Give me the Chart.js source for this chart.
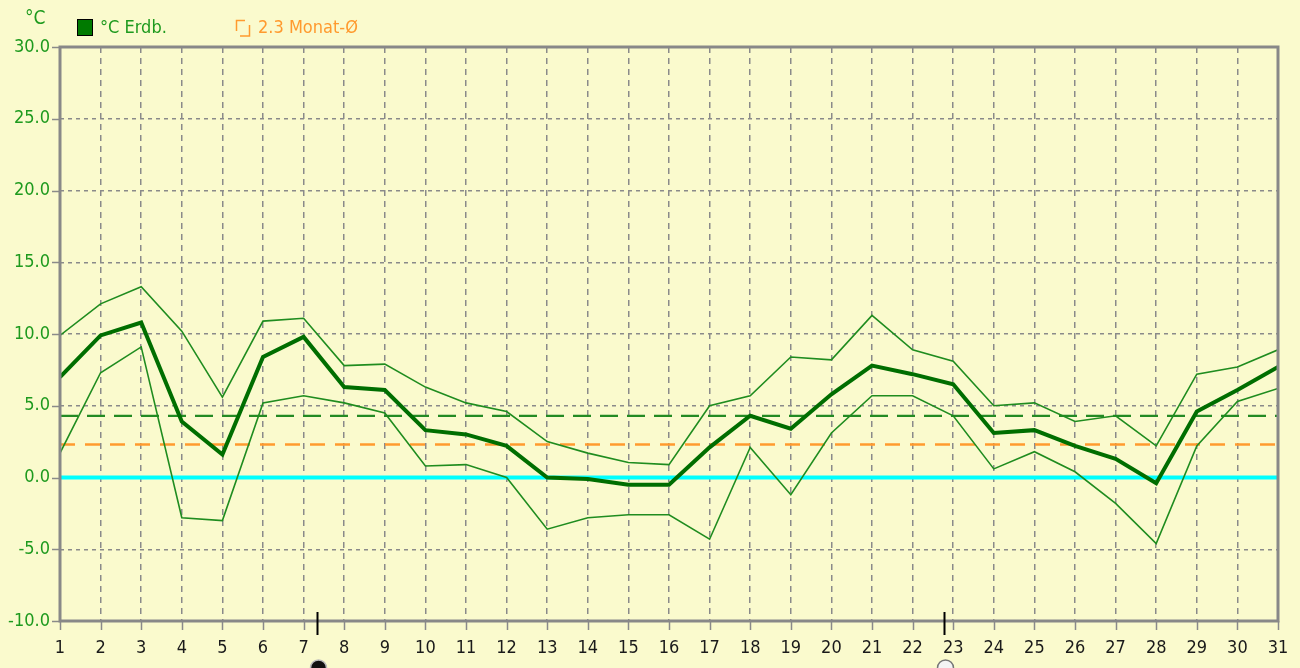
<!DOCTYPE html>
<html>
<head>
<meta charset="utf-8">
<script src="https://cdn.jsdelivr.net/npm/chart.js@4.4.1/dist/chart.umd.min.js"></script>
<style>
  html, body { margin: 0; padding: 0; background: #fafacd; }
  #wrap { width: 1300px; height: 668px; }
</style>
</head>
<body>
<div id="wrap"><canvas id="c" width="1300" height="668"></canvas></div>
<script>
// ---- data ----
const days = [1,2,3,4,5,6,7,8,9,10,11,12,13,14,15,16,17,18,19,20,21,22,23,24,25,26,27,28,29,30,31];
const erdbMean = [7.0, 9.9, 10.8, 3.9, 1.6, 8.4, 9.8, 6.3, 6.1, 3.3, 3.0, 2.2, 0.0, -0.1, -0.5, -0.5, 2.1, 4.3, 3.4, 5.8, 7.8, 7.2, 6.5, 3.1, 3.3, 2.2, 1.3, -0.4, 4.6, 6.1, 7.7];
const erdbMax  = [9.9, 12.1, 13.3, 10.2, 5.6, 10.9, 11.1, 7.8, 7.9, 6.3, 5.2, 4.6, 2.5, 1.7, 1.05, 0.9, 5.0, 5.7, 8.4, 8.2, 11.3, 8.9, 8.1, 5.0, 5.2, 3.9, 4.3, 2.2, 7.2, 7.7, 8.9];
const erdbMin  = [1.7, 7.3, 9.1, -2.8, -3.0, 5.2, 5.7, 5.2, 4.5, 0.8, 0.9, 0.0, -3.6, -2.8, -2.6, -2.6, -4.3, 2.1, -1.2, 3.1, 5.7, 5.7, 4.3, 0.6, 1.8, 0.4, -1.8, -4.6, 2.2, 5.3, 6.2];
const monthAvg = 4.3;      // green dashed line
const longTermAvg = 2.3;   // orange dashed line ("2.3 Monat-Ø")
const zeroLine = 0;
const yTicks = [-10, -5, 0, 5, 10, 15, 20, 25, 30];
const moonMarks = [7.33, 22.77]; // new moon, full moon
const legendLabels = ['°C Erdb.', '2.3 Monat-Ø'];
const unitLabel = '°C';

const FONT = "'Liberation Sans Narrow', 'DejaVu Sans Condensed', 'Arial Narrow', sans-serif";
const GREEN_TXT = '#1e9a1e';
const GRID = '#8a8a8a';

const pts = arr => days.map((d, i) => ({ x: d, y: arr[i] }));
const flat = v => [{ x: days[0], y: v }, { x: days[days.length - 1], y: v }];

const bgPlugin = {
  id: 'bg',
  beforeDraw(chart) {
    const ctx = chart.ctx;
    ctx.save();
    ctx.fillStyle = '#fafacd';
    ctx.fillRect(0, 0, chart.width, chart.height);
    ctx.restore();
  }
};

const framePlugin = {
  id: 'frame',
  afterDraw(chart) {
    const { ctx, chartArea: a, scales } = chart;
    const xs = scales.x, ys = scales.y;
    ctx.save();
    // ticks
    ctx.strokeStyle = GRID;
    ctx.lineWidth = 1.5;
    ctx.beginPath();
    yTicks.forEach(v => {
      const y = Math.round(ys.getPixelForValue(v)) + 0.5;
      ctx.moveTo(a.left - 8, y); ctx.lineTo(a.left, y);
    });
    days.forEach(d => {
      const x = Math.round(xs.getPixelForValue(d)) + 0.5;
      ctx.moveTo(x, a.bottom); ctx.lineTo(x, a.bottom + 9);
    });
    ctx.stroke();
    // frame
    ctx.strokeStyle = '#888888';
    ctx.lineWidth = 3;
    ctx.strokeRect(a.left, a.top, a.right - a.left, a.bottom - a.top);
    // moon markers
    moonMarks.forEach((m, i) => {
      const x = Math.round(xs.getPixelForValue(m)) + 0.5;
      ctx.strokeStyle = '#000';
      ctx.lineWidth = 2;
      ctx.beginPath();
      ctx.moveTo(x, a.bottom - 9); ctx.lineTo(x, a.bottom + 14);
      ctx.stroke();
      ctx.beginPath();
      ctx.arc(x + 1, 668, 8, 0, Math.PI * 2);
      ctx.fillStyle = i === 0 ? '#111' : '#f4f4f4';
      ctx.fill();
      ctx.lineWidth = 1.5;
      ctx.strokeStyle = i === 0 ? '#bbb' : '#777';
      ctx.stroke();
    });
    // unit label
    ctx.font = '19px ' + FONT;
    ctx.fillStyle = GREEN_TXT;
    ctx.textBaseline = 'middle';
    ctx.textAlign = 'left';
    ctx.fillText(unitLabel, 25, 19);
    // legend
    ctx.fillStyle = '#007a00';
    ctx.fillRect(77, 19, 16, 17);
    ctx.strokeStyle = '#000';
    ctx.lineWidth = 1;
    ctx.strokeRect(77.5, 19.5, 15, 16);
    ctx.font = '18px ' + FONT;
    ctx.fillStyle = GREEN_TXT;
    ctx.fillText(legendLabels[0], 100, 28);
    ctx.strokeStyle = '#ff9a2e';
    ctx.lineWidth = 1.5;
    ctx.beginPath();
    ctx.moveTo(236.5, 31); ctx.lineTo(236.5, 20.5); ctx.lineTo(245, 20.5);
    ctx.moveTo(240, 36); ctx.lineTo(249.5, 36); ctx.lineTo(249.5, 25);
    ctx.stroke();
    ctx.fillStyle = '#ff9a2e';
    ctx.fillText(legendLabels[1], 258, 28);
    ctx.restore();
  }
};

new Chart(document.getElementById('c'), {
  type: 'line',
  data: {
    datasets: [
      { label: 'mean', data: pts(erdbMean), borderColor: '#006e00', borderWidth: 4, pointRadius: 0, tension: 0 },
      { label: 'max', data: pts(erdbMax), borderColor: '#1f8c1f', borderWidth: 1.6, pointRadius: 0, tension: 0 },
      { label: 'min', data: pts(erdbMin), borderColor: '#1f8c1f', borderWidth: 1.6, pointRadius: 0, tension: 0 },
      { label: 'month', data: flat(monthAvg), borderColor: '#238a23', borderWidth: 2.2, borderDash: [18, 9], pointRadius: 0 },
      { label: 'long', data: flat(longTermAvg), borderColor: '#ff9a2e', borderWidth: 2.5, borderDash: [15, 10], pointRadius: 0 },
      { label: 'zero', data: flat(zeroLine), borderColor: '#00ffff', borderWidth: 4, pointRadius: 0 }
    ]
  },
  options: {
    responsive: false,
    animation: false,
    events: [],
    layout: { padding: { left: 0, right: 22, top: 47, bottom: 0 } },
    plugins: { legend: { display: false }, tooltip: { enabled: false } },
    scales: {
      x: {
        type: 'linear', min: 1, max: 31,
        afterFit(s) { s.height = 47; s.paddingLeft = 0; s.paddingRight = 0; },
        afterBuildTicks(s) { s.ticks = days.map(v => ({ value: v })); },
        grid: { color: GRID, lineWidth: 1.5, drawTicks: false },
        border: { display: false, dash: [6, 5] },
        ticks: { color: '#1a1a1a', font: { family: FONT, size: 18 }, padding: 17, maxRotation: 0, autoSkip: false,
                 callback: v => String(v) }
      },
      y: {
        min: -10, max: 30,
        afterFit(s) { s.width = 60; s.paddingTop = 0; s.paddingBottom = 0; },
        afterBuildTicks(s) { s.ticks = yTicks.map(v => ({ value: v })); },
        grid: { color: GRID, lineWidth: 1.5, drawTicks: false },
        border: { display: false, dash: [4, 4] },
        ticks: { color: GREEN_TXT, font: { family: FONT, size: 18 }, padding: 10, callback: v => v.toFixed(1) }
      }
    }
  },
  plugins: [bgPlugin, framePlugin]
});
</script>
</body>
</html>
